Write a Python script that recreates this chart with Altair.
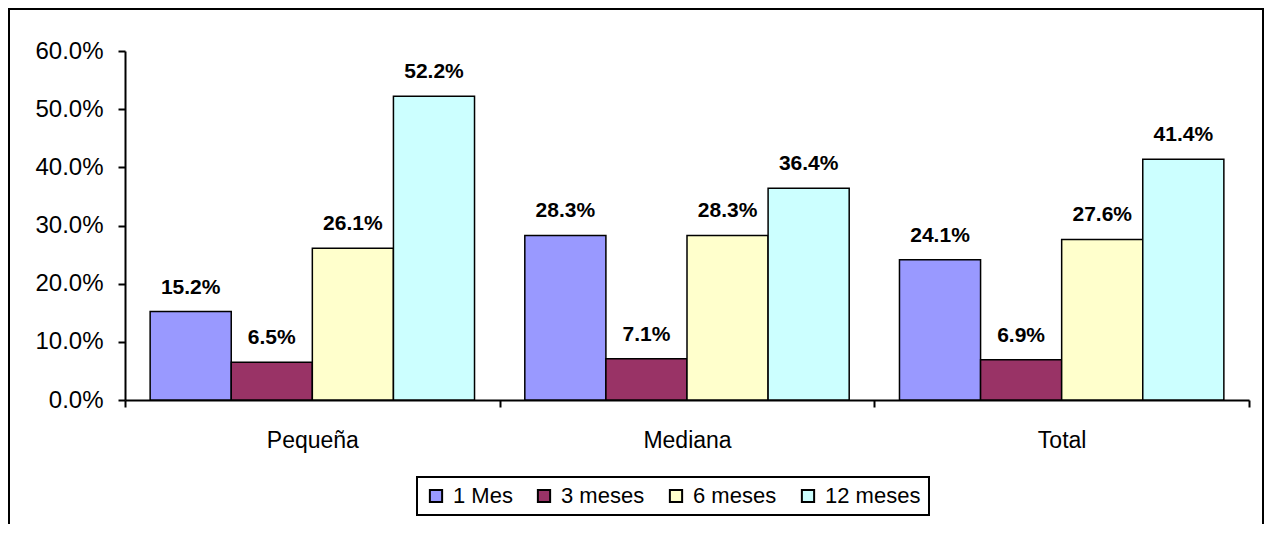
import altair as alt
import pandas as pd

categories = ["Pequeña", "Mediana", "Total"]
series = ["1 Mes", "3 meses", "6 meses", "12 meses"]
values_1mes = [0.152, 0.283, 0.241]
values_3meses = [0.065, 0.071, 0.069]
values_6meses = [0.261, 0.283, 0.276]
values_12meses = [0.522, 0.364, 0.414]
colors = ["#9999FF", "#993366", "#FFFFCC", "#CCFFFF"]
y_ticks = [0.0, 0.1, 0.2, 0.3, 0.4, 0.5, 0.6]

rows = []
for s, vals in zip(series, [values_1mes, values_3meses, values_6meses, values_12meses]):
    for c, v in zip(categories, vals):
        rows.append({"Categoria": c, "Serie": s, "Valor": v})
df = pd.DataFrame(rows)

FONT = "Liberation Sans"

x_enc = alt.X(
    "Categoria:N",
    sort=categories,
    scale=alt.Scale(paddingInner=0, paddingOuter=0),
    axis=alt.Axis(
        title=None,
        labelAngle=0,
        tickBand="extent",
        labelFontSize=23,
        labelFont=FONT,
        labelColor="black",
        labelPadding=22,
        domainColor="black",
        domainWidth=2,
        tickColor="black",
        tickWidth=2,
        tickSize=7,
    ),
)
xoff_enc = alt.XOffset(
    "Serie:N", sort=series, scale=alt.Scale(paddingInner=0, paddingOuter=0.31)
)
y_enc = alt.Y(
    "Valor:Q",
    scale=alt.Scale(domain=[0, 0.6], nice=False),
    axis=alt.Axis(
        title=None,
        values=y_ticks,
        format=".1%",
        grid=False,
        labelFontSize=24,
        labelFont=FONT,
        labelColor="black",
        labelPadding=15,
        domainColor="black",
        domainWidth=2,
        tickColor="black",
        tickWidth=2,
        tickSize=7,
    ),
)

bars = alt.Chart(df).mark_bar(stroke="black", strokeWidth=1.5).encode(
    x=x_enc,
    xOffset=xoff_enc,
    y=y_enc,
    color=alt.Color(
        "Serie:N",
        sort=series,
        scale=alt.Scale(domain=series, range=colors),
        legend=alt.Legend(
            title=None,
            orient="none",
            legendX=292,
            legendY=426,
            direction="horizontal",
            columns=4,
            columnPadding=20,
            symbolType="square",
            symbolSize=150,
            symbolStrokeColor="black",
            symbolStrokeWidth=2,
            symbolOpacity=1,
            labelFontSize=22,
            labelFont=FONT,
            labelColor="black",
            labelOffset=6,
            strokeColor="black",
            padding=8,
        ),
    ),
)

labels = alt.Chart(df).mark_text(
    baseline="alphabetic",
    dy=-18,
    fontSize=21,
    fontWeight="bold",
    font=FONT,
    color="black",
).encode(
    x=alt.X("Categoria:N", sort=categories),
    xOffset=alt.XOffset("Serie:N", sort=series),
    y=alt.Y("Valor:Q"),
    text=alt.Text("Valor:Q", format=".1%"),
)

border = alt.Chart(alt.Data(values=[{"a": 1}])).mark_rect(
    fillOpacity=0, stroke="black", strokeWidth=2
).encode(
    x=alt.value(-116),
    x2=alt.value(1138),
    y=alt.value(-42),
    y2=alt.value(700),
)

chart = alt.layer(bars, labels, border).properties(
    width=1124,
    height=349,
    autosize=alt.AutoSizeParams(type="none"),
    padding={"left": 117, "top": 43, "right": 15, "bottom": 124},
    background="white",
).configure_view(stroke=None).configure_legend(strokeWidth=2)

chart.save("out.html", embed_options={"renderer": "svg", "actions": False})
